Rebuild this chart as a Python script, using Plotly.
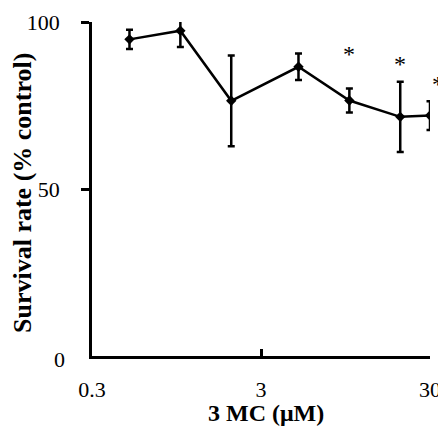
import math
import plotly.graph_objects as go

# Data
conc_uM = [0.5, 1, 2, 5, 10, 20, 30]
survival = [94.8, 97.4, 76.4, 86.6, 76.5, 71.6, 72.0]
sem = [2.9, 4.9, 13.6, 4.0, 3.6, 10.5, 4.3]
sig_conc = [10, 20, 30]
sig_y = [91.2, 88.2, 82.2]
y_ticks = [50, 100]
x_ticks = [0.3, 3, 30]
x_ticktext = ["0.3", "3", "30"]

FONT = '"Liberation Serif", "Times New Roman", Times, serif'

fig = go.Figure()
fig.add_trace(go.Scatter(
    x=conc_uM, y=survival,
    mode="lines+markers",
    line=dict(color="black", width=2.5),
    marker=dict(symbol="diamond", size=8, color="black"),
    error_y=dict(type="data", array=sem, visible=True, color="black",
                 thickness=2.5, width=3.5),
    showlegend=False,
))

for xc, yc in zip(sig_conc, sig_y):
    fig.add_annotation(x=math.log10(xc), y=yc, xref="x", yref="y", text="*",
                       showarrow=False, xshift=8 if xc == 30 else 0,
                       font=dict(family=FONT, size=24, color="black"),
                       xanchor="center", yanchor="middle", yshift=-3)

# "0" label on y axis (no tick mark drawn at 0 in the reference)
fig.add_annotation(x=0, xref="paper", xanchor="right", xshift=-25,
                   y=0, yref="y", yanchor="middle", yshift=-3, text="0",
                   showarrow=False, font=dict(family=FONT, size=22, color="black"))

# axis titles
fig.add_annotation(x=0.5, xref="paper", xanchor="center", xshift=5,
                   y=0, yref="paper", yanchor="middle", yshift=-57,
                   text="<b>3 MC (μM)</b>", showarrow=False,
                   font=dict(family=FONT, size=24, color="black"))
fig.add_annotation(x=0, xref="paper", xanchor="center", xshift=-70,
                   y=0.5, yref="paper", yanchor="middle", yshift=-4,
                   text="<b>Survival rate (% control)</b>", textangle=-90,
                   showarrow=False,
                   font=dict(family=FONT, size=26, color="black"))

fig.update_layout(
    width=438, height=428,
    margin=dict(l=92, r=8, t=22, b=72, autoexpand=False),
    paper_bgcolor="white", plot_bgcolor="white",
    font=dict(family=FONT, size=22, color="black"),
    xaxis=dict(
        type="log", range=[math.log10(0.3), math.log10(30)],
        tickvals=x_ticks, ticktext=x_ticktext,
        ticks="inside", ticklen=7, tickwidth=2.5, tickcolor="black",
        showline=True, linewidth=2.5, linecolor="black",
        showgrid=False, zeroline=False, automargin=False,
        ticklabelstandoff=12, ticklabeloverflow="allow",
        tickfont=dict(family=FONT, size=22, color="black"),
    ),
    yaxis=dict(
        range=[0, 100],
        tickvals=y_ticks,
        ticks="outside", ticklen=8, tickwidth=2.5, tickcolor="black",
        showline=True, linewidth=2.5, linecolor="black",
        showgrid=False, zeroline=False, automargin=False,
        ticklabelstandoff=17,
        tickfont=dict(family=FONT, size=22, color="black"),
    ),
)

fig.write_html(
    "out.html",
    config={"displayModeBar": False},
    post_script="document.body.style.margin='0';document.body.style.overflow='hidden';",
)
